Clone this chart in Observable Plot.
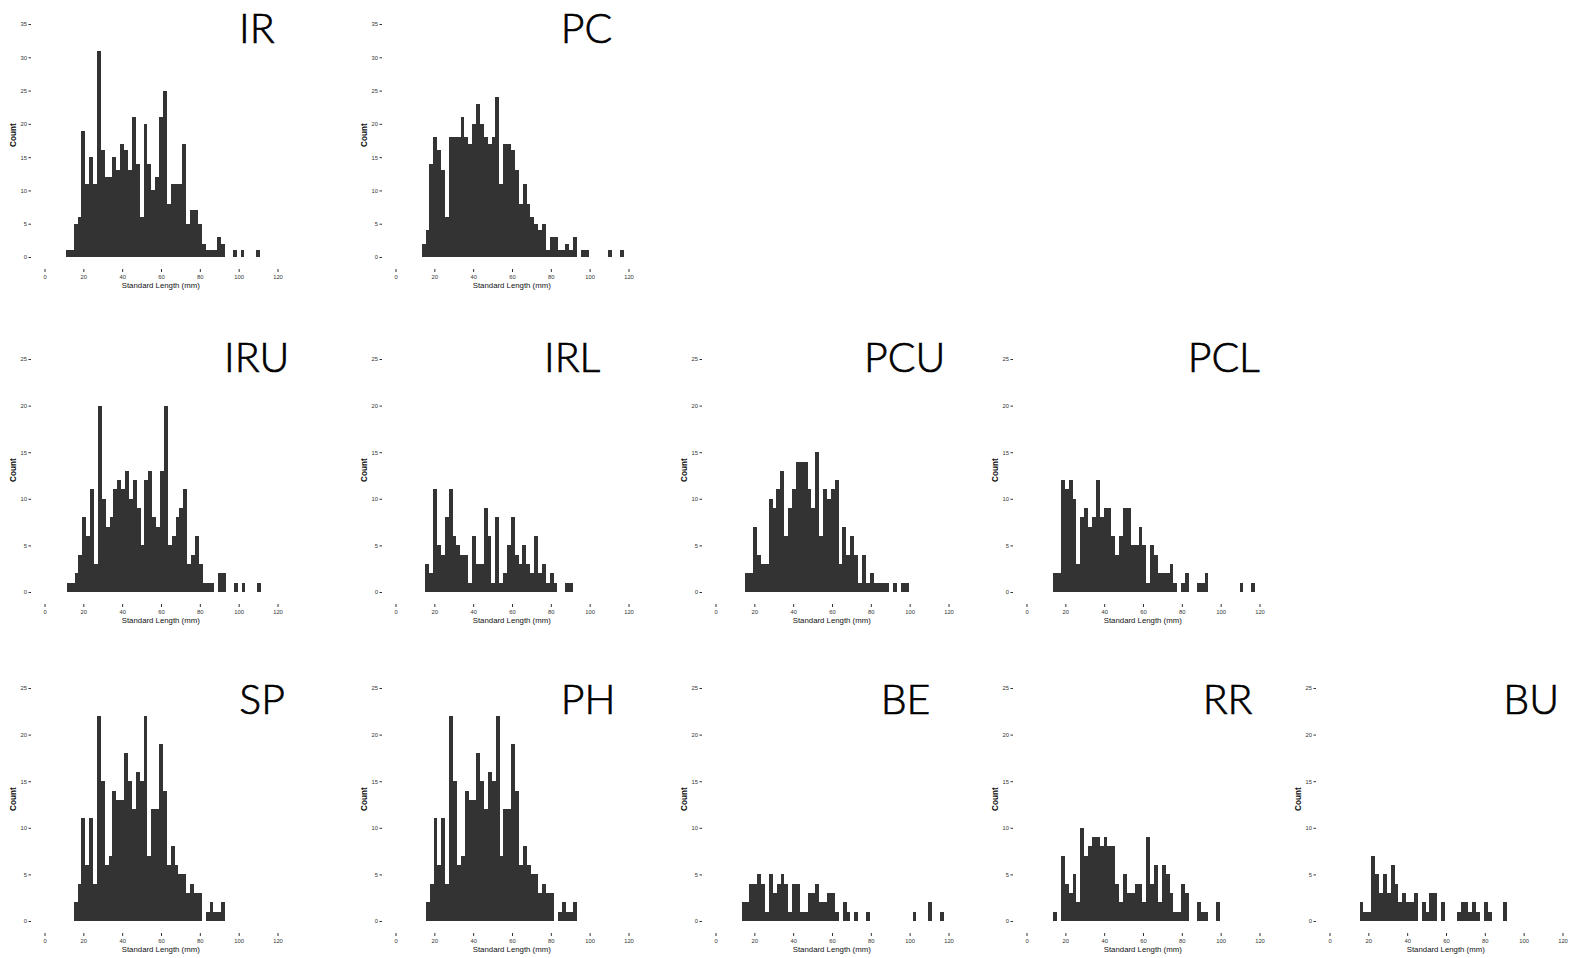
<!DOCTYPE html>
<html>
<head>
<meta charset="utf-8">
<script src="https://cdn.jsdelivr.net/npm/d3@7"></script>
<script src="https://cdn.jsdelivr.net/npm/@observablehq/plot@0.6"></script>
<style>
  html, body { margin: 0; padding: 0; background: #fff; }
  #page { position: relative; width: 1585px; height: 958px; overflow: hidden; background: #fff; }
  .panel { position: absolute; }
  #titles { position: absolute; left: 0; top: 0; pointer-events: none; }
</style>
</head>
<body>
<div id="page"></div>
<script>
// ---------------- DATA ----------------
const panelNames = ["IR", "PC", "IRU", "IRL", "PCU", "PCL", "SP", "PH", "BE", "RR", "BU"];
const binWidth = 2; // mm
// lower edge (mm) of the first 2-mm bin of each histogram
const binStart = { IR: 11, PC: 13.5, IRU: 11.5, IRL: 15.4, PCU: 15.4, PCL: 13.7, SP: 15, PH: 15.6, BE: 13.5, RR: 13.7, BU: 15.5 };

const countsIR  = [1,1,5,6,19,11,15,11,31,16, 12,12,15,13,17,16,13,21,14,6, 20,14,10,12,21,25,8,11,11,11, 17,5,7,7,5,2,1,1,1,3, 2,0,0,1,0,1,0,0,0,1];
const countsPC  = [2,4,14,18,16,13,6,18,18,18, 21,18,17,20,23,20,18,17,18,24, 11,17,17,16,13,8,11,8,6,5, 4,5,1,3,3,1,1,2,1,3, 0,1,1,0,0,0,0,0,1,0, 0,1];
const countsIRU = [1,1,2,4,8,6,11,3,20,10, 7,8,11,12,11,13,10,12,9,5, 12,13,8,7,13,20,5,6,8,9, 11,3,4,6,3,1,1,1,0,2, 2,0,0,1,0,1,0,0,0,1];
const countsIRL = [3,2,11,5,4,8,11,6,5,4, 4,1,6,3,3,9,6,1,8,1, 2,5,8,4,3,5,3,2,6,2, 3,1,2,1,0,0,1,1];
const countsPCU = [2,2,7,4,3,3,10,9,11,13, 6,9,11,14,14,14,11,9,15,6, 11,10,11,12,3,7,4,6,4,1, 4,1,2,1,1,1,1,0,1,0, 1,1];
const countsPCL = [2,2,12,11,12,10,3,8,9,7, 8,12,8,9,9,6,4,6,9,9, 5,5,7,5,1,5,4,2,2,2, 3,1,0,1,2,0,0,1,1,2, 0,0,0,0,0,0,0,0,1,0, 0,1];
const countsSP  = [2,4,11,6,11,4,22,15,6,7, 14,13,13,18,15,12,16,15,22,7, 12,12,19,14,6,8,6,5,5,3, 4,3,3,0,1,2,1,1,2];
const countsPH  = [2,4,11,6,11,4,22,15,6,7, 14,13,13,18,15,12,16,15,22,7, 12,12,19,14,6,8,6,5,5,3, 4,3,3,0,1,2,1,1,2];
const countsBE  = [2,2,4,4,5,4,1,5,3,4, 5,4,1,4,4,1,1,3,3,4, 2,2,3,3,1,0,2,1,0,1, 0,0,1,0,0,0,0,0,0,0, 0,0,0,0,1,0,0,0,2,0, 0,1];
const countsRR  = [1,0,7,4,3,5,2,10,7,8, 9,9,8,9,8,8,4,2,5,3, 3,4,4,2,9,4,6,2,6,5, 3,1,1,4,3,0,0,2,1,1, 0,0,2];
const countsBU  = [2,1,1,7,5,3,5,3,6,4, 2,3,2,2,3,0,2,1,3,3, 0,2,0,0,0,1,2,2,1,2, 1,0,2,1,0,0,0,2];

const xTicks = [0, 20, 40, 60, 80, 100, 120];
const yTicksRow1 = [0, 5, 10, 15, 20, 25, 30, 35];
const yTicksRows23 = [0, 5, 10, 15, 20, 25];
const xLabel = "Standard Length (mm)";
const yLabel = "Count";

// ---------------- LAYOUT (not data) ----------------
const countsByPanel = { IR: countsIR, PC: countsPC, IRU: countsIRU, IRL: countsIRL, PCU: countsPCU, PCL: countsPCL, SP: countsSP, PH: countsPH, BE: countsBE, RR: countsRR, BU: countsBU };
const panelGrid = { IR: [0,0], PC: [0,1], IRU: [1,0], IRL: [1,1], PCU: [1,2], PCL: [1,3], SP: [2,0], PH: [2,1], BE: [2,2], RR: [2,3], BU: [2,4] };
const colLeft = [0, 350.5, 670.5, 982, 1284.5];
const rowTop = [14, 349.3, 678.3];
const titlePos = { IR: [239, 42.7], PC: [560.7, 42.7], IRU: [224, 371.7], IRL: [544, 371.7], PCU: [864, 371.7], PCL: [1187.7, 371.7],
                   SP: [239.3, 714], PH: [560.7, 714], BE: [880.7, 714], RR: [1202.7, 714], BU: [1503.3, 714] };

const page = document.getElementById("page");
const W = 294.5, H = 287;

for (const name of panelNames) {
  const [r, c] = panelGrid[name];
  const counts = countsByPanel[name];
  const bins = counts.map((n, i) => ({ x1: binStart[name] + i * binWidth, x2: binStart[name] + (i + 1) * binWidth, count: n }))
                     .filter(d => d.count > 0);
  const yTicks = r === 0 ? yTicksRow1 : yTicksRows23;
  const chart = Plot.plot({
    width: W, height: H,
    marginLeft: 31, marginRight: 5, marginTop: 10, marginBottom: 32,
    style: { fontFamily: "'Liberation Sans', Arial, sans-serif", background: "#fff", overflow: "visible" },
    x: { domain: [0, 120], insetLeft: 13.5, insetRight: 12 },
    y: { domain: [0, yTicks[yTicks.length - 1]], insetBottom: 12 },
    marks: [
      Plot.rectY(bins, { x1: "x1", x2: "x2", y: "count", fill: "#333333", inset: 0, shapeRendering: "crispEdges" }),
      Plot.axisX({ ticks: xTicks, tickSize: 3, tickPadding: 2.5, fontSize: 5.8, color: "#333", label: null }),
      Plot.axisY({ ticks: yTicks, tickSize: 2.5, tickPadding: 2, fontSize: 5.8, color: "#333", label: null }),
      Plot.text([xLabel], { frameAnchor: "bottom", dy: 18.5, fontSize: 7.8, fill: "#111" }),
      Plot.text([yLabel], { frameAnchor: "left", dx: -18, rotate: -90, fontSize: 8.2, fontWeight: "bold", fill: "#111" })
    ]
  });
  chart.classList.add("panel");
  chart.style.left = colLeft[c] + "px";
  chart.style.top = rowTop[r] + "px";
  page.appendChild(chart);
}

// panel titles
const svg = d3.select(page).append("svg").attr("id", "titles").attr("width", 1585).attr("height", 958);
svg.selectAll("text").data(panelNames).join("text")
  .attr("x", d => titlePos[d][0])
  .attr("y", d => titlePos[d][1])
  .attr("font-family", "Lato, 'Open Sans', sans-serif")
  .attr("font-weight", 300)
  .attr("font-size", 41)
  .attr("fill", "#000")
  .attr("stroke", "#000")
  .attr("stroke-width", 0.7)
  .text(d => d);
</script>
</body>
</html>
